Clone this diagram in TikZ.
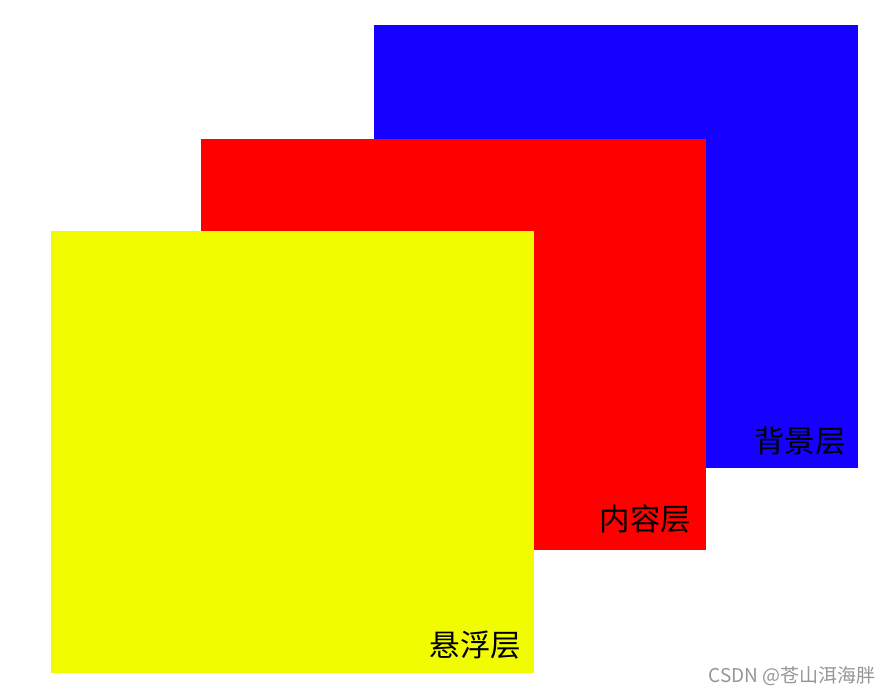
\documentclass[tikz,border=0pt]{standalone}
\usepackage{fontspec}
\newfontfamily\cjk{Noto Sans CJK SC}
\definecolor{bgblue}{RGB}{22,0,255}
\definecolor{ctred}{RGB}{255,0,0}
\definecolor{flyellow}{RGB}{242,252,0}
\definecolor{wmgray}{RGB}{150,150,150}
\tikzset{
  layer/.style={draw=none},
  layerlabel/.style={font=\cjk\fontsize{30.5}{30.5}\selectfont, text=black, inner sep=0pt},
  watermark/.style={font=\cjk\fontsize{19}{19}\selectfont, text=wmgray, inner sep=0pt}
}
\begin{document}
\begin{tikzpicture}[x=1pt,y=-1pt]
\useasboundingbox (0,0) rectangle (893,695);
\fill[white] (0,0) rectangle (893,695);
\fill[bgblue, layer] (374,25) rectangle (858,467.5);
\fill[ctred, layer] (201,139) rectangle (706,550);
\fill[flyellow, layer] (51,231) rectangle (534,673);
\node[layerlabel] (bg) at (800,441) {背景层};
\node[layerlabel] (ct) at (645.5,519) {内容层};
\node[layerlabel] (fl) at (475.5,645) {悬浮层};
\node[watermark] (wm) at (792,676.5) {CSDN @苍山洱海胖};
\end{tikzpicture}
\end{document}
